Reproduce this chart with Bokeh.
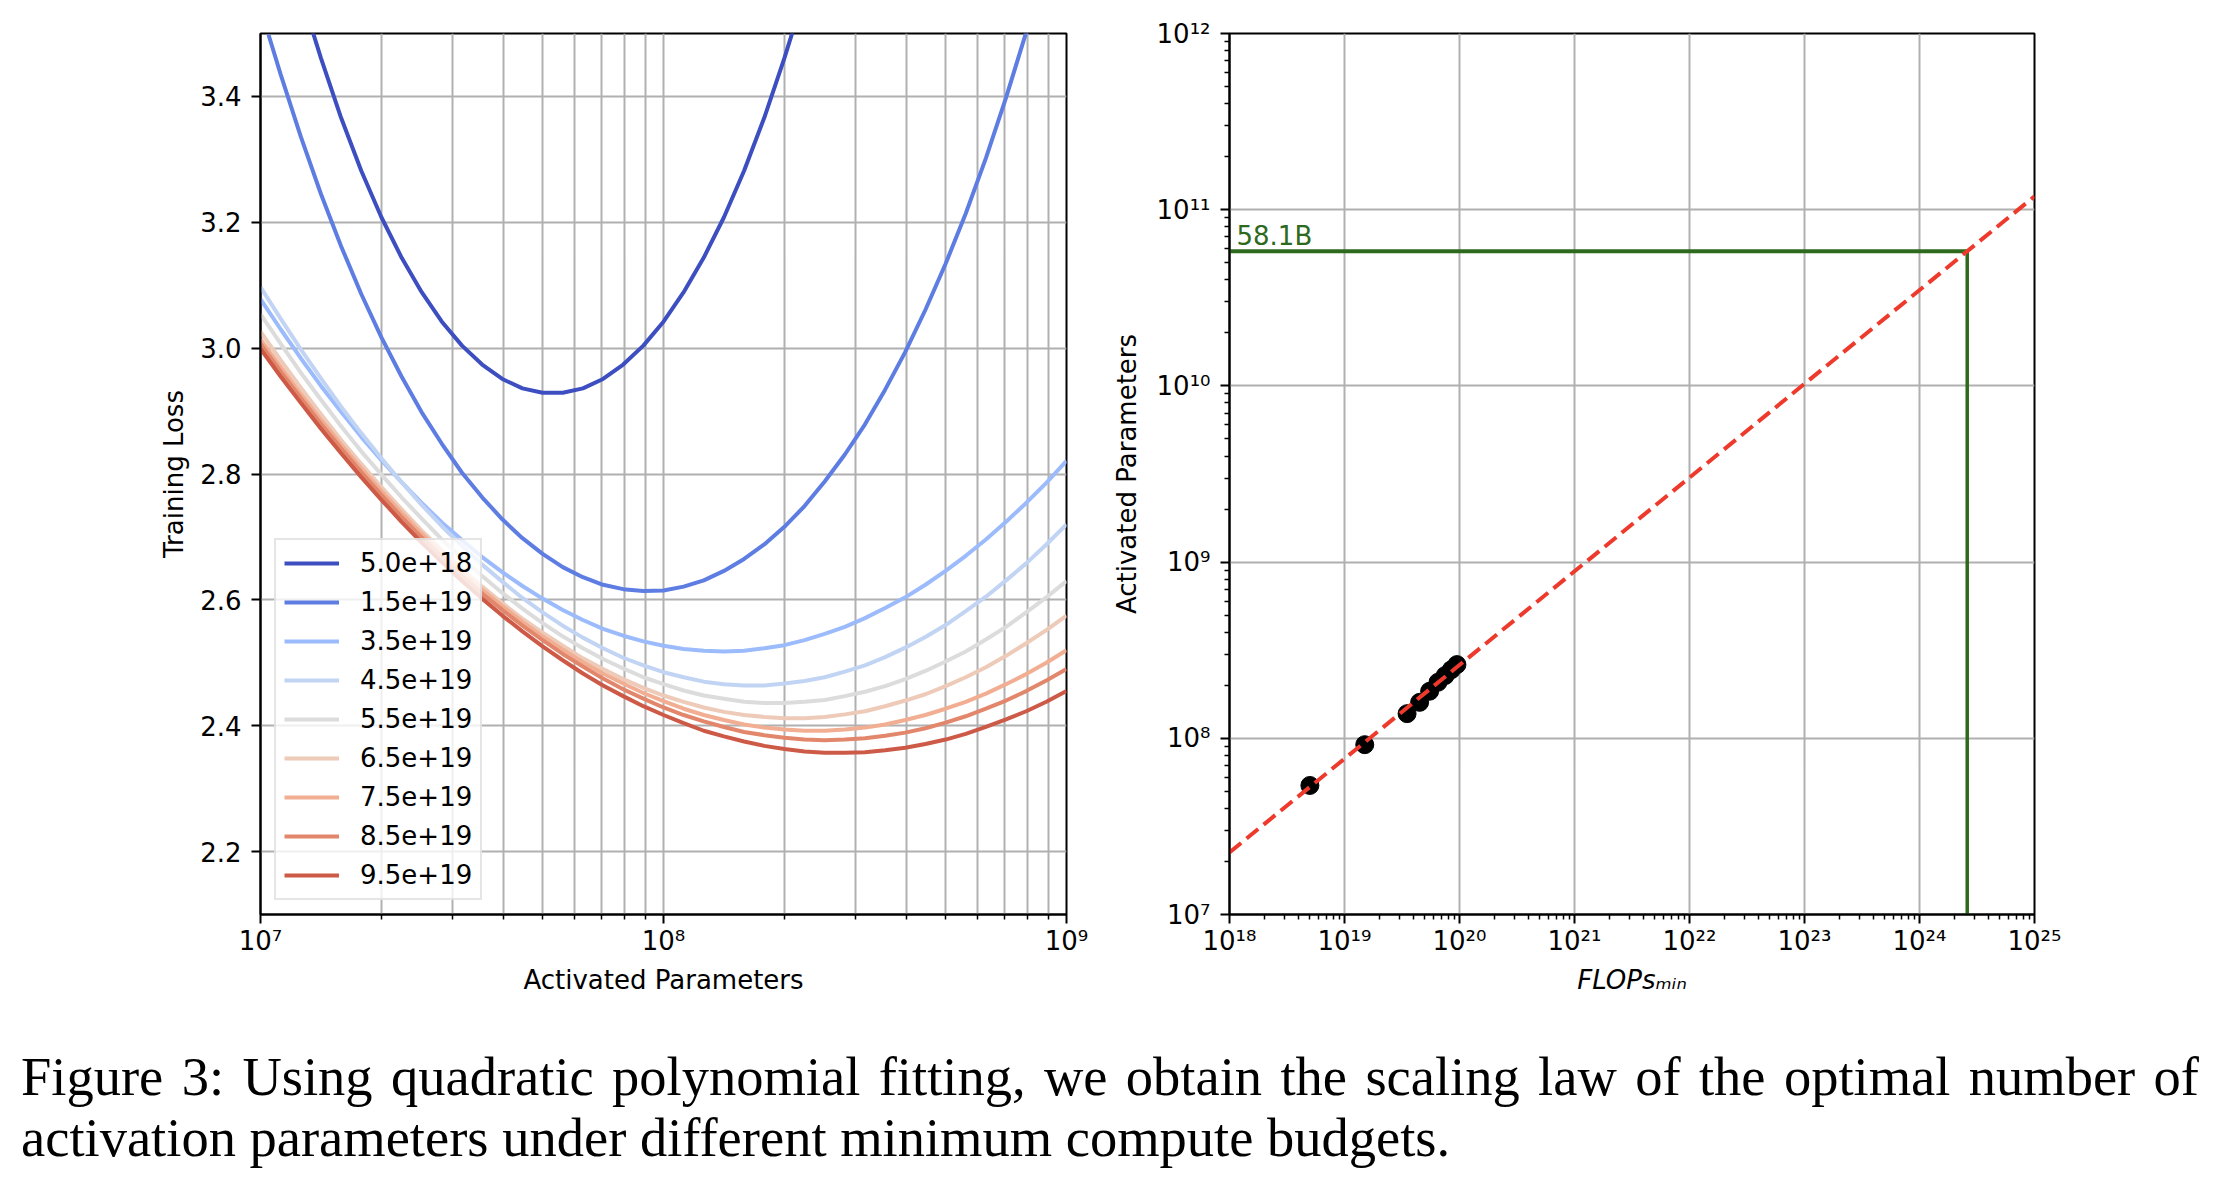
from bokeh.plotting import figure
from bokeh.models import FixedTicker, Div, Legend, LegendItem, CustomJSTickFormatter
from bokeh.layouts import row, column
from bokeh.core.properties import value
from bokeh.embed import file_html
from bokeh.resources import INLINE

# ---------------- data ----------------
budgets = [5.0e18, 1.5e19, 3.5e19, 4.5e19, 5.5e19, 6.5e19, 7.5e19, 8.5e19, 9.5e19]
colors = ["#3d4fc0", "#5d7de2", "#9bbbfc", "#c2d4f4", "#dddcdc",
          "#eecab8", "#f2ae92", "#e2876c", "#cd5947"]

# curve for 5.0e18 : log10(activated parameters), training loss
logN_c1 = [7.13, 7.15, 7.20, 7.25, 7.30, 7.35, 7.40, 7.45, 7.50, 7.55, 7.60, 7.65, 7.70,
           7.75, 7.80, 7.85, 7.90, 7.95, 8.00, 8.05, 8.10, 8.15, 8.20, 8.25, 8.30, 8.32]
loss_c1 = [3.502, 3.461, 3.366, 3.282, 3.208, 3.144, 3.089, 3.042, 3.004, 2.974, 2.951, 2.936, 2.929,
           2.929, 2.936, 2.951, 2.974, 3.004, 3.042, 3.089, 3.144, 3.208, 3.282, 3.366, 3.461, 3.502]

# curve for 1.5e19
logN_c2 = [7.02, 7.05, 7.10, 7.15, 7.20, 7.25, 7.30, 7.35, 7.40, 7.45, 7.50, 7.55, 7.60, 7.65,
           7.70, 7.75, 7.80, 7.85, 7.90, 7.95, 8.00, 8.05, 8.10, 8.15, 8.20, 8.25, 8.30, 8.35,
           8.40, 8.45, 8.50, 8.55, 8.60, 8.65, 8.70, 8.75, 8.80, 8.85, 8.90]
loss_c2 = [3.498, 3.435, 3.336, 3.245, 3.162, 3.086, 3.017, 2.955, 2.898, 2.848, 2.802, 2.763, 2.728, 2.698,
           2.673, 2.652, 2.636, 2.624, 2.617, 2.614, 2.615, 2.621, 2.631, 2.646, 2.665, 2.688, 2.716, 2.749,
           2.788, 2.831, 2.879, 2.934, 2.994, 3.061, 3.134, 3.214, 3.302, 3.398, 3.502]

# remaining curves, read on a common grid of log10(activated parameters)
logN_grid = [7.00, 7.05, 7.10, 7.15, 7.20, 7.25, 7.30, 7.35, 7.40, 7.45, 7.50, 7.55, 7.60, 7.65,
             7.70, 7.75, 7.80, 7.85, 7.90, 7.95, 8.00, 8.05, 8.10, 8.15, 8.20, 8.25, 8.30, 8.35,
             8.40, 8.45, 8.50, 8.55, 8.60, 8.65, 8.70, 8.75, 8.80, 8.85, 8.90, 8.95, 9.00]
loss_c3 = [3.078, 3.030, 2.984, 2.940, 2.899, 2.859, 2.822, 2.787, 2.754, 2.723, 2.695, 2.668, 2.644, 2.622,
           2.602, 2.584, 2.568, 2.554, 2.543, 2.534, 2.527, 2.522, 2.519, 2.518, 2.519, 2.523, 2.528, 2.536,
           2.546, 2.557, 2.571, 2.587, 2.604, 2.624, 2.646, 2.670, 2.696, 2.724, 2.754, 2.786, 2.821]
loss_c4 = [3.097, 3.047, 2.998, 2.952, 2.907, 2.865, 2.825, 2.787, 2.751, 2.717, 2.686, 2.656, 2.629, 2.603,
           2.580, 2.559, 2.540, 2.523, 2.508, 2.496, 2.485, 2.477, 2.470, 2.466, 2.464, 2.464, 2.467, 2.471,
           2.477, 2.486, 2.496, 2.509, 2.524, 2.541, 2.560, 2.582, 2.605, 2.631, 2.658, 2.688, 2.720]
loss_c5 = [3.054, 3.007, 2.961, 2.918, 2.876, 2.836, 2.799, 2.763, 2.729, 2.696, 2.666, 2.638, 2.611, 2.586,
           2.563, 2.542, 2.523, 2.506, 2.491, 2.477, 2.466, 2.456, 2.448, 2.443, 2.438, 2.436, 2.436, 2.438,
           2.441, 2.447, 2.454, 2.463, 2.474, 2.487, 2.502, 2.518, 2.537, 2.557, 2.580, 2.604, 2.630]
loss_c6 = [3.026, 2.981, 2.937, 2.895, 2.854, 2.816, 2.779, 2.744, 2.710, 2.679, 2.649, 2.621, 2.595, 2.570,
           2.548, 2.527, 2.507, 2.490, 2.474, 2.460, 2.448, 2.438, 2.429, 2.422, 2.417, 2.414, 2.412, 2.412,
           2.414, 2.418, 2.423, 2.431, 2.440, 2.450, 2.463, 2.477, 2.493, 2.511, 2.531, 2.552, 2.575]
loss_c7 = [3.014, 2.970, 2.927, 2.886, 2.847, 2.809, 2.773, 2.738, 2.705, 2.674, 2.644, 2.616, 2.590, 2.565,
           2.542, 2.521, 2.501, 2.483, 2.467, 2.452, 2.439, 2.427, 2.417, 2.409, 2.402, 2.397, 2.394, 2.392,
           2.392, 2.394, 2.397, 2.402, 2.409, 2.417, 2.427, 2.438, 2.451, 2.466, 2.482, 2.500, 2.520]
loss_c8 = [3.007, 2.963, 2.921, 2.880, 2.841, 2.803, 2.767, 2.732, 2.699, 2.668, 2.638, 2.610, 2.584, 2.559,
           2.536, 2.514, 2.494, 2.475, 2.458, 2.443, 2.429, 2.417, 2.407, 2.398, 2.390, 2.385, 2.381, 2.378,
           2.377, 2.378, 2.380, 2.384, 2.389, 2.396, 2.405, 2.415, 2.427, 2.440, 2.455, 2.472, 2.490]
loss_c9 = [2.999, 2.955, 2.913, 2.872, 2.833, 2.795, 2.759, 2.724, 2.691, 2.660, 2.630, 2.602, 2.575, 2.550,
           2.526, 2.504, 2.483, 2.464, 2.447, 2.431, 2.417, 2.404, 2.392, 2.383, 2.375, 2.368, 2.363, 2.359,
           2.357, 2.357, 2.358, 2.361, 2.365, 2.371, 2.378, 2.387, 2.398, 2.410, 2.423, 2.438, 2.455]

curves_logN = [logN_c1, logN_c2] + [logN_grid] * 7
curves_loss = [loss_c1, loss_c2, loss_c3, loss_c4, loss_c5, loss_c6, loss_c7, loss_c8, loss_c9]

# right panel: optimal activated parameters per budget, fitted law, extrapolation
opt_params = [5.4e7, 9.2e7, 1.38e8, 1.6e8, 1.85e8, 2.08e8, 2.27e8, 2.45e8, 2.62e8]
fit_flops = [1e18, 1e25]
fit_params = [2.25e7, 1.19e11]
target_flops = 2.6e24
target_params = 5.81e10
target_label = "58.1B"

left_yticks = [2.2, 2.4, 2.6, 2.8, 3.0, 3.2, 3.4]
caption_line1 = "Figure 3: Using quadratic polynomial fitting, we obtain the scaling law of the optimal number of"
caption_line2 = "activation parameters under different minimum compute budgets."

# ---------------- styling ----------------
FONT = "DejaVu Sans"
FS = "26px"
GRID = "#b0b0b0"
RED = "#ee3a2c"
GREEN = "#2e6a1e"

pow_fmt = CustomJSTickFormatter(code=r"""
const sup = {'0':'\u2070','1':'\u00b9','2':'\u00b2','3':'\u00b3','4':'\u2074',
             '5':'\u2075','6':'\u2076','7':'\u2077','8':'\u2078','9':'\u2079','-':'\u207b'};
const e = Math.round(Math.log10(tick));
return '10' + String(e).split('').map(c => sup[c]).join('');
""")


def decade_ticks(lo, hi):
    major = [10.0 ** e for e in range(lo, hi + 1)]
    minor = [k * 10.0 ** e for e in range(lo, hi) for k in range(2, 10)]
    return major, minor


def style_axes(p):
    for ax in list(p.xaxis) + list(p.yaxis):
        ax.axis_line_color = "black"
        ax.axis_line_width = 2
        ax.major_tick_line_color = "black"
        ax.major_tick_line_width = 2
        ax.major_tick_out = 9
        ax.major_tick_in = 0
        ax.minor_tick_line_color = "black"
        ax.minor_tick_line_width = 1.5
        ax.minor_tick_out = 5
        ax.minor_tick_in = 0
        ax.major_label_text_font = FONT
        ax.major_label_text_font_size = FS
        ax.major_label_text_color = "black"
        ax.major_label_standoff = 10
        ax.axis_label_text_font = FONT
        ax.axis_label_text_font_size = FS
        ax.axis_label_text_font_style = "normal"
        ax.axis_label_text_color = "black"
    for ax in p.xaxis:
        ax.major_label_standoff = 2
        ax.axis_label_standoff = 6
    p.outline_line_color = "black"
    p.outline_line_width = 2
    p.outline_line_alpha = 1.0


# ---------------- left panel ----------------
p1 = figure(width=1108, height=1018, x_axis_type="log", x_range=(1e7, 1e9), y_range=(2.1, 3.5),
            output_backend="svg", toolbar_location=None,
            min_border_left=260, min_border_right=42, min_border_top=33, min_border_bottom=104)
p1.background_fill_color = "white"
p1.border_fill_color = "white"

xmaj, xmin = decade_ticks(7, 9)
xt1 = FixedTicker(ticks=xmaj, minor_ticks=xmin)
p1.xaxis.ticker = xt1
p1.xgrid.ticker = xt1
p1.xaxis.formatter = pow_fmt
yt1 = FixedTicker(ticks=left_yticks, minor_ticks=[])
p1.yaxis.ticker = yt1
p1.ygrid.ticker = yt1
p1.yaxis.major_label_overrides = {t: f"{t:.1f}" for t in left_yticks}

p1.xgrid.grid_line_color = GRID
p1.xgrid.grid_line_width = 2
p1.xgrid.minor_grid_line_color = GRID
p1.xgrid.minor_grid_line_width = 2
p1.ygrid.grid_line_color = GRID
p1.ygrid.grid_line_width = 2

p1.xaxis.axis_label = "Activated Parameters"
p1.yaxis.axis_label = "Training Loss"
style_axes(p1)
p1.yaxis.minor_tick_out = 0
p1.yaxis.axis_label_standoff = 8

items = []
for c, lu, ll, col in zip(budgets, curves_logN, curves_loss, colors):
    r = p1.line([10.0 ** u for u in lu], ll, line_color=col, line_width=4)
    items.append(LegendItem(label=f"{c:.1e}", renderers=[r]))

legend = Legend(items=items, location="bottom_left")
legend.label_text_font = FONT
legend.label_text_font_size = FS
legend.label_text_color = "black"
legend.label_text_baseline = "middle"
legend.glyph_width = 55
legend.glyph_height = 30
legend.label_height = 30
legend.spacing = 9
legend.padding = 8
legend.margin = 14
legend.label_standoff = 21
legend.border_line_color = "#cccccc"
legend.border_line_width = 2
legend.background_fill_color = "white"
legend.background_fill_alpha = 0.8
p1.add_layout(legend)

# ---------------- right panel ----------------
flops_min, flops_max = 1e18, 1e25
params_min, params_max = 1e7, 1e12
p2 = figure(width=1000, height=1018, x_axis_type="log", y_axis_type="log",
            x_range=(flops_min, flops_max), y_range=(params_min, params_max),
            output_backend="svg", toolbar_location=None,
            min_border_left=119, min_border_right=74, min_border_top=33, min_border_bottom=104)
p2.background_fill_color = "white"
p2.border_fill_color = "white"

x2maj, x2min = decade_ticks(18, 25)
y2maj, y2min = decade_ticks(7, 12)
xt2 = FixedTicker(ticks=x2maj, minor_ticks=x2min)
yt2 = FixedTicker(ticks=y2maj, minor_ticks=y2min)
p2.xaxis.ticker = xt2
p2.xgrid.ticker = FixedTicker(ticks=x2maj, minor_ticks=[])
p2.yaxis.ticker = yt2
p2.ygrid.ticker = FixedTicker(ticks=y2maj, minor_ticks=[])
p2.xaxis.formatter = pow_fmt
p2.yaxis.formatter = pow_fmt
for g in (p2.xgrid, p2.ygrid):
    g.grid_line_color = GRID
    g.grid_line_width = 2
    g.minor_grid_line_color = None

p2.xaxis.axis_label = "FLOPs\u2098\u1d62\u2099"
p2.yaxis.axis_label = "Activated Parameters"
style_axes(p2)
p2.xaxis.axis_label_text_font_style = "italic"
p2.yaxis.axis_label_standoff = 12

p2.scatter(budgets, opt_params, size=18, fill_color="black", line_color="black")
p2.line([flops_min, target_flops], [target_params, target_params], line_color=GREEN, line_width=4)
p2.line([target_flops, target_flops], [params_min, target_params], line_color=GREEN, line_width=3.5)
p2.line(fit_flops, fit_params, line_color=RED, line_width=4, line_dash="15 7")
p2.text(x=[flops_min], y=[target_params], text=[target_label], text_font=value(FONT),
        text_font_size=FS, text_color=GREEN, x_offset=7, y_offset=0,
        text_baseline="bottom", text_align="left")

# ---------------- caption ----------------
cap_html = (
    '<div style="font-family: \'Liberation Serif\', \'Times New Roman\', serif; '
    'font-size:54.5px; line-height:61px; color:#000; width:2178px; margin-left:16px; '
    'padding-top:23px; white-space:nowrap;">'
    '<div style="text-align:justify; text-align-last:justify; white-space:normal;">'
    + caption_line1 + '</div><div>' + caption_line2 + '</div></div>'
)
caption = Div(text=cap_html, width=2200, height=160)

layout = column(row(p1, p2), caption)
open("out.html", "w", encoding="utf-8").write(file_html(layout, INLINE, title="Figure 3"))
